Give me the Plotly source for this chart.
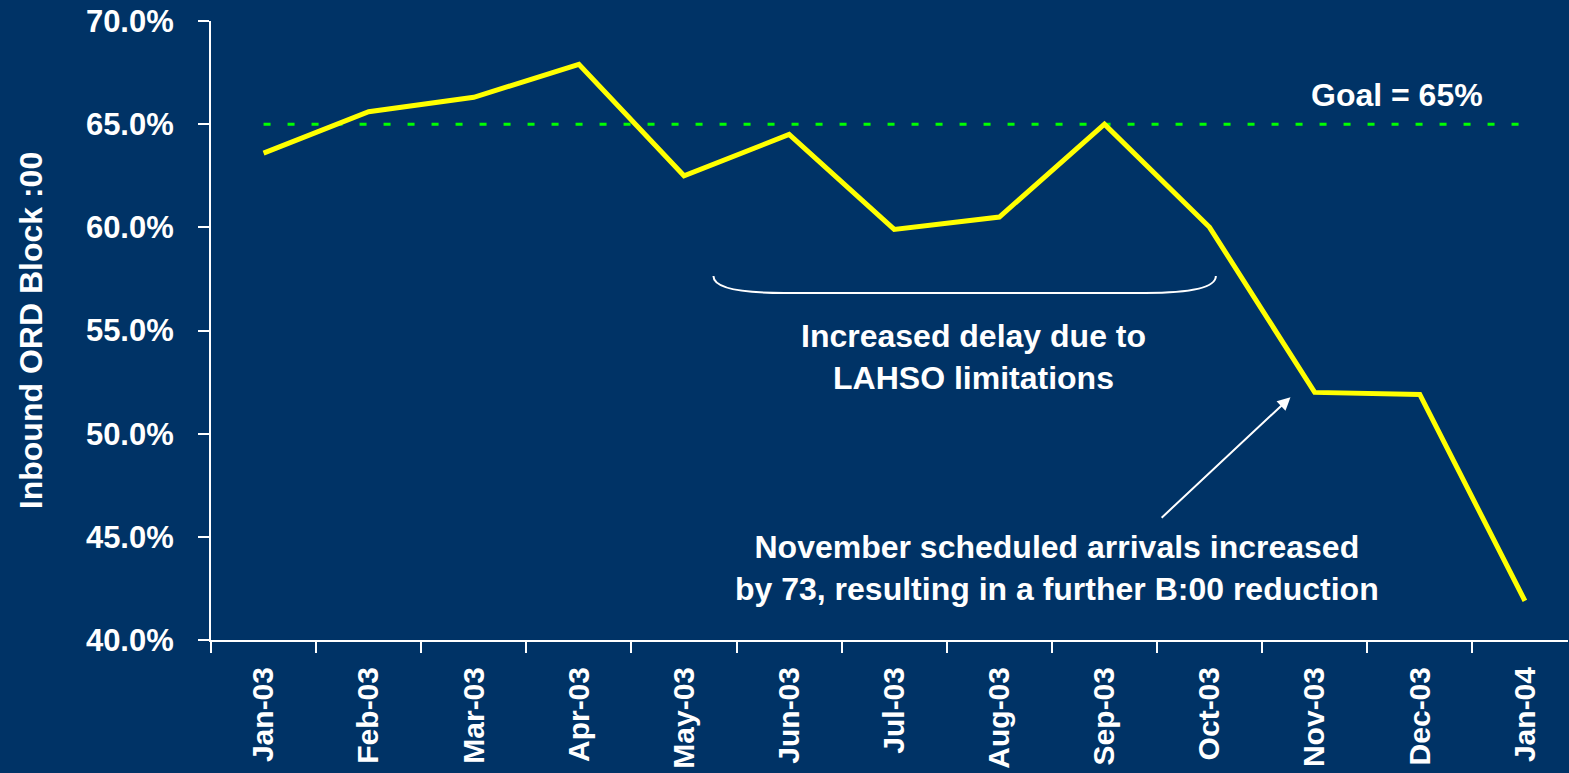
import plotly.graph_objects as go

months = ["Jan-03", "Feb-03", "Mar-03", "Apr-03", "May-03", "Jun-03", "Jul-03",
          "Aug-03", "Sep-03", "Oct-03", "Nov-03", "Dec-03", "Jan-04"]
block_pct = [63.6, 65.6, 66.3, 67.9, 62.5, 64.5, 59.9, 60.5, 65.0, 60.0, 52.0, 51.9, 41.9]
goal_pct = [65.0] * len(months)
y_ticks = [40, 45, 50, 55, 60, 65, 70]

BG = "#003366"
FONT = "Liberation Sans, Arial, sans-serif"

fig = go.Figure()
fig.add_trace(go.Scatter(x=months, y=goal_pct, mode="lines",
                         line=dict(color="#00FF00", width=3, dash="7px,17px"),
                         hoverinfo="skip", showlegend=False))
fig.add_trace(go.Scatter(x=months, y=block_pct, mode="lines",
                         line=dict(color="#FFFF00", width=5), showlegend=False))

fig.update_layout(
    width=1569, height=773,
    paper_bgcolor=BG, plot_bgcolor=BG,
    margin=dict(l=211, r=1, t=21, b=133),
    font=dict(family=FONT, color="white", size=30, weight="bold"),
    showlegend=False,
)
fig.update_xaxes(
    type="category", range=[-0.5, 12.41], tickson="boundaries", automargin=False,
    showgrid=False, zeroline=False, showline=True, linecolor="white", linewidth=2,
    ticks="outside", ticklen=11, tickwidth=2, tickcolor="white",
    tickangle=-90, tickfont=dict(size=30, family=FONT, color="white", weight="bold"),
    ticklabelstandoff=13,
)
fig.update_yaxes(
    range=[40, 70], tickvals=y_ticks, ticktext=[f"{v:.1f}%" for v in y_ticks],
    automargin=False,
    showgrid=False, zeroline=False, showline=True, linecolor="white", linewidth=2,
    ticks="outside", ticklen=11, tickwidth=2, tickcolor="white",
    tickfont=dict(size=31, family=FONT, color="white", weight="bold"),
    ticklabelstandoff=18,
    title=dict(text="Inbound ORD Block :00", font=dict(size=32, family=FONT, color="white", weight="bold"),
               standoff=34),
)

# bracket
fig.add_shape(type="path", xref="x", yref="y",
              path="M 4.28,57.64 Q 4.28,56.82 4.95,56.82 L 8.39,56.82 Q 9.06,56.82 9.06,57.64",
              line=dict(color="white", width=2))

txt = dict(family=FONT, color="white", size=32, weight="bold")
fig.add_annotation(x=6.75, y=53.71, xref="x", yref="y", showarrow=False,
                   text="Increased delay due to<br>LAHSO limitations", font=txt, align="center")
fig.add_annotation(x=7.55, y=43.49, xref="x", yref="y", showarrow=False,
                   text="November scheduled arrivals increased<br>by 73, resulting in a further B:00 reduction",
                   font=txt, align="center")
fig.add_annotation(x=10.78, y=66.41, xref="x", yref="y", showarrow=False,
                   text="Goal = 65%", font=txt)
fig.add_annotation(x=9.77, y=51.77, ax=8.53, ay=45.86, xref="x", yref="y", axref="x", ayref="y",
                   showarrow=True, arrowhead=2, arrowsize=1.3, arrowwidth=2, arrowcolor="white", text="")

fig.write_html("out.html", config={"displayModeBar": False},
               post_script="document.body.style.margin='0';document.body.style.overflow='hidden';")
